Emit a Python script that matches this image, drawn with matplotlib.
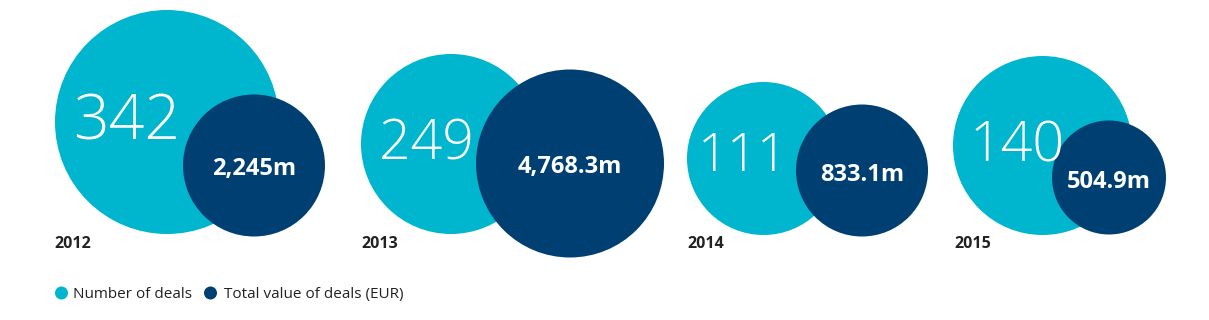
import matplotlib
matplotlib.use("Agg")
import matplotlib.pyplot as plt
from matplotlib.patches import Circle

# ---- data ----
years = ["2012", "2013", "2014", "2015"]
num_deals = [342, 249, 111, 140]
value_labels = ["2,245m", "4,768.3m", "833.1m", "504.9m"]
legend_labels = ["Number of deals", "Total value of deals (EUR)"]

# ---- layout (pixels) ----
cyan_c = [(167, 122), (451, 144), (763.5, 158.5), (1042.5, 145.5)]
cyan_r = [112, 90, 76.5, 89.5]
dark_c = [(254, 165.5), (570, 163.5), (862, 170.5), (1109, 177.5)]
dark_r = [71, 94, 66, 57]
num_pos = [(127, 139), (426, 159), (743, 171), (1017, 162)]
num_size = [45, 40, 38, 40]
val_base = [175, 173, 181, 188]
year_x = [54, 361, 687, 954]

CYAN = "#00B5CE"
DARK = "#003F72"
FONT = ["Open Sans", "DejaVu Sans"]

fig = plt.figure(figsize=(12.09, 3.2), dpi=100)
ax = fig.add_axes([0, 0, 1, 1])
ax.set_xlim(0, 1209)
ax.set_ylim(320, 0)
ax.axis("off")

for i in range(len(years)):
    ax.add_patch(Circle(cyan_c[i], cyan_r[i], color=CYAN, lw=0))
    ax.add_patch(Circle(dark_c[i], dark_r[i], color=DARK, lw=0))
    ax.text(num_pos[i][0], num_pos[i][1], str(num_deals[i]), color="white",
            fontsize=num_size[i], fontweight="light", family=FONT,
            ha="center", va="baseline")
    ax.text(dark_c[i][0], val_base[i], value_labels[i], color="white",
            fontsize=17, fontweight="bold", family=FONT,
            ha="center", va="baseline")
    ax.text(year_x[i], 248, years[i], color="#222222", fontsize=11.5,
            fontweight="bold", family=FONT, ha="left", va="baseline")

# legend
ax.add_patch(Circle((61.5, 293), 6.5, color=CYAN, lw=0))
ax.text(73, 298, legend_labels[0], color="#222222", fontsize=11, family=FONT,
        ha="left", va="baseline")
ax.add_patch(Circle((210.5, 293), 6.5, color=DARK, lw=0))
ax.text(224, 298, legend_labels[1], color="#222222", fontsize=11, family=FONT,
        ha="left", va="baseline")

fig.savefig("out.png", dpi=100, facecolor="white")
